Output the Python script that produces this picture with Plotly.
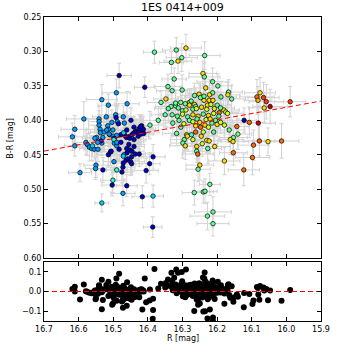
import numpy as np
import plotly.graph_objects as go

# --- data (R magnitude, B-R colour, epoch for the colour map) ---
# three observing seasons: early (blue/cyan), middle (green/yellow), late (orange/red)
R_MAG = [
    # early season
    16.483, 16.409, 16.491, 16.533, 16.514, 16.460, 16.585, 16.611, 16.541, 16.541,
    16.541, 16.538, 16.537, 16.493, 16.492, 16.488, 16.485, 16.504, 16.516, 16.514,
    16.449, 16.471, 16.440, 16.432, 16.425, 16.418, 16.437, 16.428, 16.420, 16.413,
    16.394, 16.466, 16.478, 16.462, 16.455, 16.446, 16.510, 16.500, 16.490, 16.548,
    16.530, 16.618, 16.611, 16.579, 16.575, 16.569, 16.562, 16.555, 16.544, 16.560,
    16.533, 16.536, 16.526, 16.512, 16.497, 16.490, 16.497, 16.514, 16.508, 16.498,
    16.550, 16.551, 16.596, 16.530, 16.490, 16.501, 16.503, 16.533, 16.472, 16.461,
    16.475, 16.472, 16.471, 16.463, 16.458, 16.450, 16.447, 16.469, 16.460, 16.447,
    16.437, 16.425, 16.440, 16.455, 16.470, 16.452, 16.440, 16.428, 16.420, 16.412,
    16.385, 16.395, 16.405, 16.416, 16.385, 16.386, 16.553, 16.468, 16.519, 16.501,
    16.498, 16.490, 16.461, 16.442, 16.421, 16.461, 16.452, 16.446, 16.506, 16.471,
    16.483, 16.478, 16.520, 16.545,
    # middle season
    16.381, 16.290, 16.318, 16.302, 16.313, 16.332, 16.236, 16.241, 16.237, 16.324,
    16.342, 16.330, 16.301, 16.348, 16.362, 16.213, 16.198, 16.233, 16.213, 16.167,
    16.169, 16.158, 16.189, 16.238, 16.223, 16.212, 16.228, 16.218, 16.200, 16.181,
    16.194, 16.175, 16.170, 16.265, 16.252, 16.248, 16.238, 16.222, 16.280, 16.275,
    16.265, 16.262, 16.333, 16.320, 16.312, 16.341, 16.320, 16.305, 16.292, 16.280,
    16.300, 16.290, 16.270, 16.350, 16.330, 16.315, 16.300, 16.285, 16.270, 16.255,
    16.240, 16.225, 16.210, 16.195, 16.260, 16.245, 16.230, 16.208, 16.190, 16.370,
    16.328, 16.280, 16.270, 16.258, 16.250, 16.262, 16.248, 16.235, 16.225, 16.215,
    16.232, 16.220, 16.205, 16.200, 16.190, 16.179, 16.165, 16.140, 16.143, 16.210,
    16.262, 16.246, 16.288, 16.317, 16.274, 16.286, 16.295, 16.299, 16.292, 16.230,
    16.223, 16.207, 16.227, 16.259, 16.259, 16.256, 16.153, 16.162, 16.154, 16.153,
    16.179, 16.250, 16.255, 16.221, 16.266, 16.240, 16.235, 16.212, 16.228, 16.212,
    16.305, 16.296, 16.310, 16.240, 16.270, 16.243,
    # late season
    16.076, 16.085, 16.066, 16.082, 16.058, 16.064, 16.047, 15.989, 16.122, 16.107,
    16.081, 16.078, 16.053, 16.014, 16.095, 16.098, 16.123,
]

B_R = [
    # early season
    0.335, 0.352, 0.360, 0.370, 0.378, 0.376, 0.398, 0.413, 0.398, 0.402,
    0.407, 0.413, 0.418, 0.392, 0.396, 0.402, 0.405, 0.403, 0.408, 0.413,
    0.400, 0.395, 0.410, 0.416, 0.412, 0.408, 0.417, 0.418, 0.415, 0.413,
    0.407, 0.422, 0.421, 0.425, 0.424, 0.421, 0.421, 0.423, 0.422, 0.425,
    0.425, 0.424, 0.437, 0.432, 0.435, 0.439, 0.441, 0.442, 0.442, 0.437,
    0.433, 0.430, 0.417, 0.420, 0.433, 0.437, 0.426, 0.450, 0.446, 0.460,
    0.465, 0.470, 0.476, 0.472, 0.472, 0.487, 0.494, 0.520, 0.506, 0.495,
    0.475, 0.468, 0.462, 0.458, 0.456, 0.460, 0.463, 0.450, 0.447, 0.453,
    0.449, 0.449, 0.438, 0.435, 0.418, 0.426, 0.428, 0.423, 0.420, 0.419,
    0.453, 0.463, 0.473, 0.511, 0.510, 0.555, 0.426, 0.404, 0.414, 0.414,
    0.428, 0.432, 0.414, 0.419, 0.409, 0.441, 0.443, 0.445, 0.445, 0.452,
    0.442, 0.432, 0.395, 0.432,
    # middle season
    0.301, 0.295, 0.298, 0.309, 0.314, 0.316, 0.306, 0.332, 0.337, 0.340,
    0.351, 0.357, 0.356, 0.369, 0.374, 0.344, 0.350, 0.353, 0.360, 0.359,
    0.363, 0.369, 0.366, 0.371, 0.371, 0.371, 0.378, 0.377, 0.378, 0.385,
    0.389, 0.388, 0.390, 0.364, 0.362, 0.367, 0.365, 0.363, 0.374, 0.372,
    0.377, 0.380, 0.380, 0.379, 0.382, 0.383, 0.375, 0.374, 0.376, 0.378,
    0.386, 0.385, 0.384, 0.392, 0.392, 0.394, 0.391, 0.395, 0.392, 0.394,
    0.391, 0.393, 0.390, 0.394, 0.383, 0.381, 0.384, 0.383, 0.382, 0.400,
    0.404, 0.400, 0.402, 0.398, 0.403, 0.408, 0.410, 0.407, 0.410, 0.404,
    0.399, 0.398, 0.400, 0.406, 0.403, 0.407, 0.414, 0.420, 0.409, 0.417,
    0.417, 0.423, 0.421, 0.419, 0.421, 0.423, 0.428, 0.433, 0.437, 0.429,
    0.430, 0.438, 0.441, 0.438, 0.445, 0.449, 0.425, 0.428, 0.431, 0.447,
    0.459, 0.465, 0.471, 0.493, 0.505, 0.504, 0.503, 0.533, 0.539, 0.550,
    0.410, 0.405, 0.400, 0.417, 0.428, 0.434,
    # late season
    0.360, 0.366, 0.367, 0.371, 0.373, 0.382, 0.380, 0.373, 0.400, 0.403,
    0.404, 0.430, 0.431, 0.430, 0.436, 0.454, 0.472,
]

EPOCH = [
    # early season
    0.03, 0.03, 0.28, 0.28, 0.28, 0.28, 0.28, 0.28, 0.28, 0.28,
    0.28, 0.28, 0.28, 0.28, 0.08, 0.28, 0.08, 0.28, 0.28, 0.28,
    0.08, 0.28, 0.06, 0.06, 0.06, 0.06, 0.06, 0.06, 0.06, 0.06,
    0.45, 0.06, 0.06, 0.06, 0.06, 0.06, 0.28, 0.28, 0.28, 0.28,
    0.28, 0.28, 0.28, 0.28, 0.26, 0.28, 0.28, 0.26, 0.28, 0.33,
    0.28, 0.13, 0.28, 0.28, 0.28, 0.26, 0.08, 0.06, 0.06, 0.28,
    0.28, 0.28, 0.28, 0.06, 0.40, 0.40, 0.06, 0.33, 0.28, 0.06,
    0.06, 0.06, 0.06, 0.06, 0.06, 0.06, 0.06, 0.33, 0.06, 0.06,
    0.06, 0.06, 0.06, 0.06, 0.33, 0.06, 0.06, 0.06, 0.06, 0.06,
    0.06, 0.06, 0.06, 0.06, 0.33, 0.06, 0.28, 0.28, 0.28, 0.28,
    0.38, 0.28, 0.06, 0.06, 0.06, 0.06, 0.06, 0.06, 0.06, 0.33,
    0.06, 0.08, 0.28, 0.28,
    # middle season
    0.45, 0.68, 0.47, 0.47, 0.68, 0.47, 0.47, 0.68, 0.47, 0.47,
    0.47, 0.47, 0.47, 0.68, 0.47, 0.47, 0.47, 0.68, 0.47, 0.47,
    0.68, 0.47, 0.47, 0.68, 0.68, 0.68, 0.68, 0.60, 0.47, 0.68,
    0.80, 0.60, 0.60, 0.47, 0.68, 0.47, 0.47, 0.68, 0.68, 0.47,
    0.68, 0.47, 0.47, 0.47, 0.47, 0.45, 0.47, 0.50, 0.47, 0.68,
    0.47, 0.60, 0.47, 0.45, 0.47, 0.47, 0.60, 0.47, 0.68, 0.68,
    0.47, 0.68, 0.60, 0.47, 0.60, 0.68, 0.60, 0.68, 0.47, 0.47,
    0.47, 0.47, 0.60, 0.47, 0.68, 0.68, 0.80, 0.68, 0.60, 0.47,
    0.60, 0.68, 0.47, 0.68, 0.60, 0.60, 0.47, 0.50, 0.80, 0.47,
    0.80, 0.68, 0.68, 0.47, 0.42, 0.68, 0.47, 0.47, 0.68, 0.68,
    0.68, 0.68, 0.47, 0.68, 0.47, 0.80, 0.47, 0.68, 0.68, 0.80,
    0.68, 0.68, 0.47, 0.47, 0.47, 0.47, 0.47, 0.47, 0.47, 0.47,
    0.47, 0.60, 0.47, 0.60, 0.60, 0.60,
    # late season
    0.68, 0.80, 0.85, 0.72, 0.85, 0.68, 0.95, 0.85, 0.03, 0.80,
    0.92, 0.82, 0.68, 0.80, 0.80, 0.80, 0.80,
]

R_ERR = [
    # early season
    0.035, 0.030, 0.040, 0.045, 0.030, 0.035, 0.050, 0.040, 0.035, 0.030,
    0.030, 0.040, 0.035, 0.030, 0.035, 0.040, 0.030, 0.035, 0.030, 0.040,
    0.035, 0.030, 0.030, 0.035, 0.040, 0.030, 0.035, 0.030, 0.040, 0.035,
    0.040, 0.030, 0.035, 0.030, 0.035, 0.040, 0.030, 0.035, 0.040, 0.030,
    0.035, 0.040, 0.030, 0.035, 0.030, 0.040, 0.035, 0.030, 0.035, 0.030,
    0.035, 0.030, 0.040, 0.035, 0.030, 0.035, 0.030, 0.035, 0.040, 0.030,
    0.035, 0.030, 0.033, 0.035, 0.030, 0.035, 0.030, 0.020, 0.035, 0.030,
    0.030, 0.035, 0.030, 0.035, 0.030, 0.040, 0.030, 0.035, 0.030, 0.035,
    0.030, 0.035, 0.030, 0.035, 0.040, 0.030, 0.035, 0.030, 0.035, 0.030,
    0.035, 0.030, 0.035, 0.030, 0.030, 0.027, 0.035, 0.030, 0.035, 0.030,
    0.030, 0.035, 0.030, 0.035, 0.030, 0.035, 0.030, 0.035, 0.030, 0.035,
    0.030, 0.035, 0.040, 0.035,
    # middle season
    0.032, 0.045, 0.040, 0.045, 0.040, 0.035, 0.045, 0.040, 0.045, 0.035,
    0.040, 0.045, 0.040, 0.035, 0.040, 0.045, 0.040, 0.035, 0.045, 0.040,
    0.035, 0.040, 0.045, 0.040, 0.035, 0.045, 0.040, 0.035, 0.040, 0.045,
    0.040, 0.035, 0.045, 0.040, 0.035, 0.045, 0.040, 0.035, 0.045, 0.040,
    0.035, 0.040, 0.045, 0.040, 0.035, 0.040, 0.045, 0.040, 0.035, 0.045,
    0.040, 0.035, 0.045, 0.040, 0.035, 0.045, 0.040, 0.035, 0.045, 0.040,
    0.035, 0.045, 0.040, 0.035, 0.040, 0.045, 0.040, 0.035, 0.040, 0.045,
    0.040, 0.035, 0.045, 0.040, 0.035, 0.040, 0.045, 0.040, 0.035, 0.045,
    0.040, 0.035, 0.045, 0.040, 0.035, 0.040, 0.045, 0.040, 0.035, 0.045,
    0.040, 0.035, 0.045, 0.040, 0.035, 0.045, 0.040, 0.035, 0.045, 0.040,
    0.035, 0.045, 0.040, 0.035, 0.040, 0.045, 0.040, 0.035, 0.045, 0.040,
    0.045, 0.040, 0.035, 0.030, 0.035, 0.030, 0.035, 0.053, 0.050, 0.046,
    0.040, 0.035, 0.045, 0.040, 0.035, 0.045,
    # late season
    0.045, 0.050, 0.045, 0.040, 0.050, 0.045, 0.050, 0.045, 0.035, 0.045,
    0.050, 0.045, 0.040, 0.050, 0.045, 0.050, 0.045,
]

BR_ERR = [
    # early season
    0.018, 0.015, 0.020, 0.022, 0.016, 0.018, 0.025, 0.020, 0.018, 0.016,
    0.015, 0.020, 0.018, 0.016, 0.018, 0.020, 0.015, 0.018, 0.016, 0.020,
    0.018, 0.016, 0.015, 0.018, 0.020, 0.016, 0.018, 0.015, 0.020, 0.018,
    0.020, 0.015, 0.018, 0.016, 0.018, 0.020, 0.016, 0.018, 0.020, 0.015,
    0.018, 0.020, 0.015, 0.018, 0.016, 0.020, 0.018, 0.016, 0.018, 0.015,
    0.018, 0.016, 0.020, 0.018, 0.015, 0.018, 0.016, 0.018, 0.020, 0.016,
    0.018, 0.016, 0.013, 0.018, 0.016, 0.018, 0.016, 0.013, 0.018, 0.016,
    0.016, 0.018, 0.016, 0.018, 0.016, 0.020, 0.016, 0.018, 0.016, 0.018,
    0.016, 0.018, 0.016, 0.018, 0.020, 0.016, 0.018, 0.016, 0.018, 0.016,
    0.018, 0.016, 0.018, 0.016, 0.016, 0.015, 0.018, 0.016, 0.018, 0.016,
    0.016, 0.018, 0.016, 0.018, 0.016, 0.018, 0.016, 0.018, 0.016, 0.018,
    0.016, 0.018, 0.020, 0.018,
    # middle season
    0.016, 0.020, 0.018, 0.020, 0.018, 0.016, 0.020, 0.018, 0.020, 0.016,
    0.018, 0.020, 0.022, 0.018, 0.016, 0.020, 0.018, 0.022, 0.020, 0.018,
    0.018, 0.020, 0.022, 0.018, 0.016, 0.020, 0.018, 0.022, 0.020, 0.018,
    0.018, 0.020, 0.022, 0.018, 0.016, 0.020, 0.018, 0.022, 0.020, 0.018,
    0.018, 0.020, 0.022, 0.018, 0.016, 0.020, 0.018, 0.022, 0.020, 0.018,
    0.018, 0.020, 0.022, 0.018, 0.016, 0.020, 0.018, 0.022, 0.020, 0.018,
    0.018, 0.020, 0.022, 0.018, 0.016, 0.020, 0.018, 0.022, 0.020, 0.018,
    0.018, 0.020, 0.022, 0.018, 0.016, 0.020, 0.018, 0.022, 0.020, 0.018,
    0.018, 0.020, 0.022, 0.018, 0.016, 0.020, 0.018, 0.022, 0.020, 0.018,
    0.018, 0.020, 0.022, 0.018, 0.016, 0.020, 0.018, 0.022, 0.020, 0.018,
    0.018, 0.020, 0.022, 0.018, 0.016, 0.020, 0.018, 0.022, 0.020, 0.018,
    0.020, 0.022, 0.018, 0.016, 0.018, 0.016, 0.018, 0.022, 0.020, 0.018,
    0.018, 0.020, 0.022, 0.018, 0.020, 0.018,
    # late season
    0.022, 0.025, 0.022, 0.020, 0.025, 0.022, 0.025, 0.022, 0.018, 0.022,
    0.025, 0.022, 0.020, 0.025, 0.022, 0.025, 0.023,
]

# linear fit B-R = a + b * R
FIT_SLOPE = 0.0908
FIT_INTERCEPT = -1.0717

R_TICKS = [16.7, 16.6, 16.5, 16.4, 16.3, 16.2, 16.1, 16.0, 15.9]
BR_TICKS = [0.25, 0.30, 0.35, 0.40, 0.45, 0.50, 0.55, 0.60]
RES_TICKS = [-0.1, 0.0, 0.1]

assert len(R_MAG) == len(B_R) == len(EPOCH) == len(R_ERR) == len(BR_ERR)

FONT = "DejaVu Sans"

# matplotlib "jet"
JET = [
    [0.00, "rgb(0,0,128)"], [0.11, "rgb(0,0,255)"], [0.125, "rgb(0,0,255)"],
    [0.34, "rgb(0,219,255)"], [0.35, "rgb(0,229,247)"], [0.375, "rgb(20,255,226)"],
    [0.64, "rgb(238,255,8)"], [0.66, "rgb(255,236,0)"], [0.89, "rgb(255,19,0)"],
    [0.91, "rgb(232,0,0)"], [1.00, "rgb(128,0,0)"],
]

r = np.array(R_MAG)
br = np.array(B_R)
residual = (FIT_INTERCEPT + FIT_SLOPE * r) - br

r_line = np.array([R_TICKS[0], R_TICKS[-1]])
fit_line = FIT_INTERCEPT + FIT_SLOPE * r_line

fig = go.Figure()

fig.add_trace(go.Scatter(
    x=r, y=br, mode="markers", xaxis="x", yaxis="y",
    error_x=dict(type="data", array=R_ERR, color="#d2d2d2", thickness=1, width=2),
    error_y=dict(type="data", array=BR_ERR, color="#d2d2d2", thickness=1, width=2),
    marker=dict(size=4.5, color=EPOCH, colorscale=JET, cmin=0, cmax=1,
                line=dict(color="black", width=0.7)),
))
fig.add_trace(go.Scatter(
    x=r_line, y=fit_line, mode="lines", xaxis="x", yaxis="y",
    line=dict(color="red", width=1, dash="5px,3px"),
))

fig.add_trace(go.Scatter(
    x=r, y=residual, mode="markers", xaxis="x2", yaxis="y2",
    marker=dict(size=6, color="black"),
))
fig.add_trace(go.Scatter(
    x=r_line, y=[0, 0], mode="lines", xaxis="x2", yaxis="y2",
    line=dict(color="red", width=1, dash="5px,3px"),
))


def frame_axis(**kw):
    base = dict(showline=True, linecolor="black", linewidth=1, mirror="allticks",
                ticks="inside", ticklen=4, tickwidth=1, tickcolor="black",
                showgrid=False, zeroline=False,
                tickfont=dict(family=FONT, size=8, color="black"))
    base.update(kw)
    return base


fig.update_layout(
    width=357, height=357,
    margin=dict(l=44, r=36, t=17, b=36, autoexpand=False),
    paper_bgcolor="white", plot_bgcolor="white",
    showlegend=False,
    xaxis=frame_axis(domain=[0, 1], anchor="y", range=[16.7, 15.9],
                     tickvals=R_TICKS, showticklabels=False),
    yaxis=frame_axis(domain=[0.207, 1], anchor="x", range=[0.60, 0.25],
                     tickvals=BR_TICKS, tickformat=".2f"),
    xaxis2=frame_axis(domain=[0, 1], anchor="y2", range=[16.7, 15.9], matches="x",
                      tickvals=R_TICKS, tickformat=".1f"),
    yaxis2=frame_axis(domain=[0, 0.194], anchor="x2", range=[-0.15, 0.15],
                      tickvals=RES_TICKS, tickformat=".1f"),
    annotations=[
        dict(text="1ES 0414+009", xref="paper", yref="paper", x=0.5, y=1,
             xanchor="center", yanchor="bottom", yshift=1, showarrow=False,
             font=dict(family=FONT, size=11, color="black")),
        dict(text="B-R [mag]", xref="paper", yref="paper", x=-0.119, y=0.6,
             xanchor="center", yanchor="middle", textangle=-90, showarrow=False,
             font=dict(family=FONT, size=8, color="black")),
        dict(text="R [mag]", xref="paper", yref="paper", x=0.5, y=-0.056,
             xanchor="center", yanchor="middle", showarrow=False,
             font=dict(family=FONT, size=8, color="black")),
    ],
)

# the page's default body margin would shift the 357px figure out of the window
fig.write_html("out.html", config={"displayModeBar": False},
               post_script="document.body.style.margin='0';")
